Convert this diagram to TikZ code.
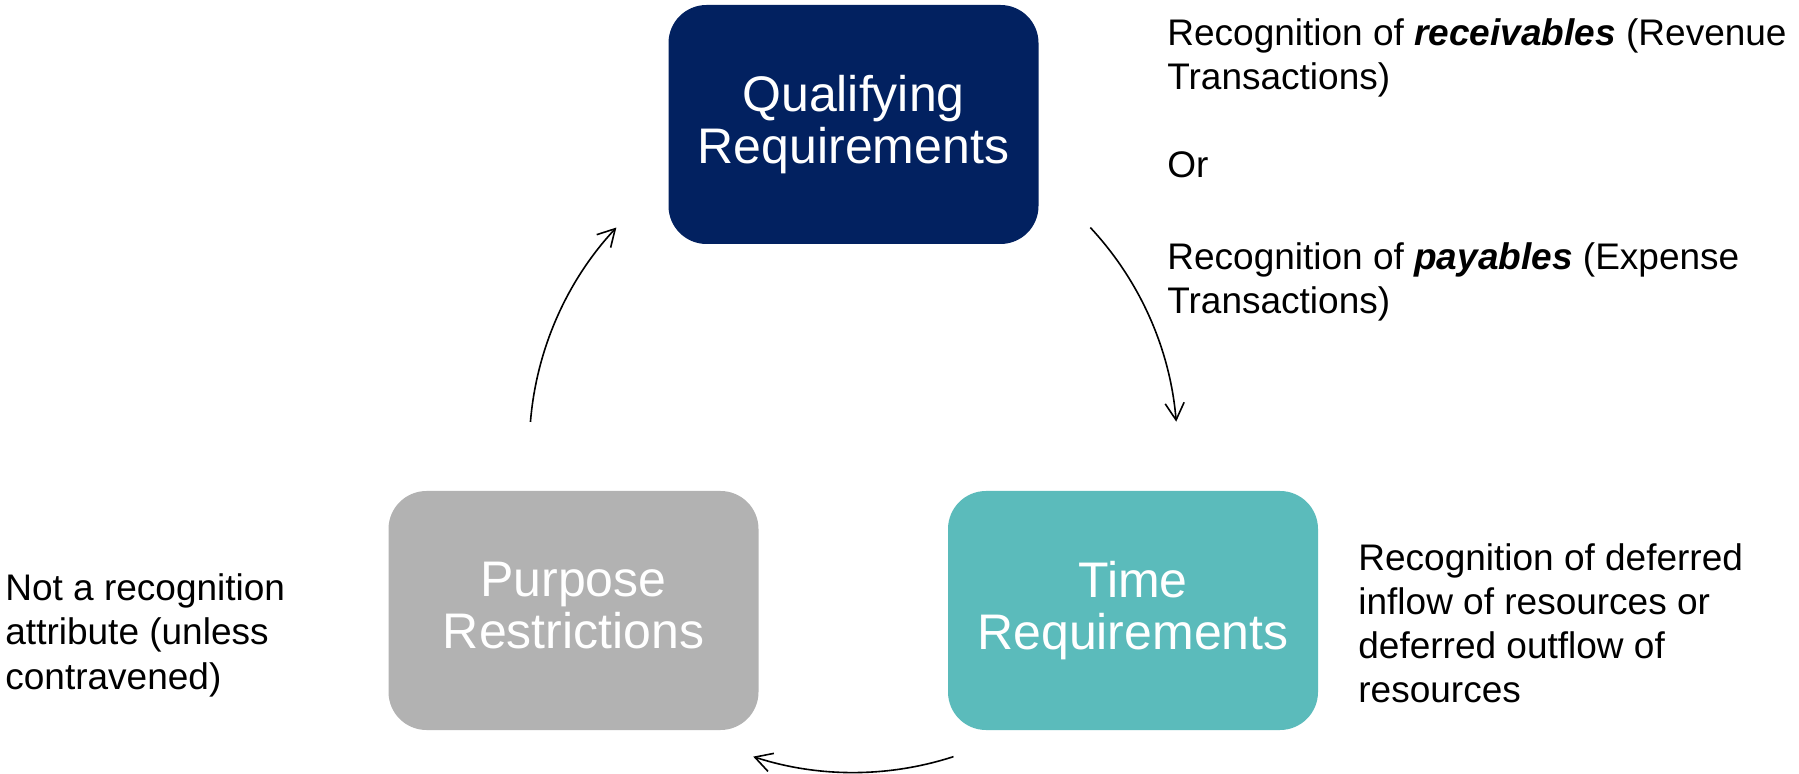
\documentclass[tikz,border=0pt]{standalone}
\usepackage{fontspec}
\setmainfont{Liberation Sans}
\usetikzlibrary{arrows.meta,calc}
\definecolor{boxnavy}{RGB}{2,33,96}
\definecolor{boxteal}{RGB}{91,187,187}
\definecolor{boxgray}{RGB}{178,178,178}
\begin{document}
\begin{tikzpicture}[x=0.5pt,y=-0.5pt,
  cyclebox/.style={rounded corners=19pt, minimum width=185pt, minimum height=119.5pt,
    inner sep=0pt, text=white, align=center,
    font=\fontsize{25pt}{25.75pt}\selectfont,
    execute at begin node={\rule{0pt}{24.4pt}},
    execute at end node={\rule[-5.2pt]{0pt}{5.2pt}}},
  note/.style={anchor=north west, inner sep=0pt, align=left, text=black,
    font=\fontsize{18.5pt}{22.1pt}\selectfont,
    execute at begin node={\rule{0pt}{15pt}}},
  cyc/.style={-{Straight Barb[length=8.5pt,width=9.5pt]}, line width=0.8pt, draw=black}]
\useasboundingbox (0,0) rectangle (1799,774);
\node[cyclebox, fill=boxnavy] (q) at (853.5,124.5) {Qualifying\\Requirements};
\node[cyclebox, fill=boxteal] (t) at (1133,610.5) {Time\\Requirements};
\node[cyclebox, fill=boxgray] (p) at (573.5,610.5) {Purpose\\Restrictions};
\coordinate (c) at ($(q)!2/3!($(t)!0.5!(p)$)$);
\draw[cyc] ($(c)+(43:162pt)$) arc[start angle=43, end angle=4.75, radius=162pt];
\draw[cyc] ($(c)+(-72:162pt)$) arc[start angle=-72, end angle=-108, radius=162pt];
\draw[cyc] ($(c)+(175.3:162pt)$) arc[start angle=175.3, end angle=137, radius=162pt];
\node[note] (n1) at (1167,18) {Recognition of \textbf{\textit{receivables}} (Revenue\\Transactions)\\[22.15pt]Or\\[23.5pt]Recognition of \textbf{\textit{payables}} (Expense\\Transactions)};
\node[note] (n2) at (1358,543) {Recognition of deferred\\inflow of resources or\\deferred outflow of\\resources};
\node[note] (n3) at (5,573.5) {Not a recognition\\attribute (unless\\contravened)};
\end{tikzpicture}
\end{document}
